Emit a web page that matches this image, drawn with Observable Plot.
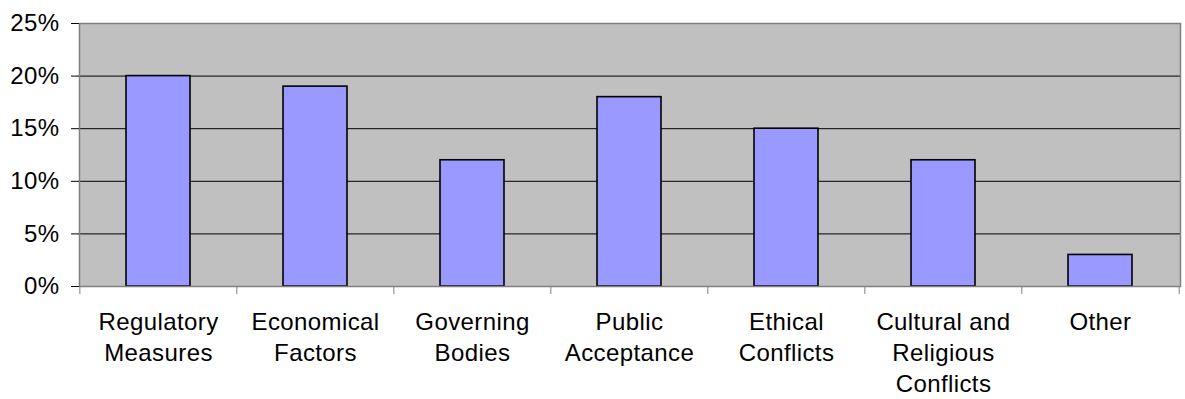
<!DOCTYPE html>
<html>
<head>
<meta charset="utf-8">
<script src="https://cdn.jsdelivr.net/npm/d3@7"></script>
<script src="https://cdn.jsdelivr.net/npm/@observablehq/plot@0.6"></script>
<style>
  html, body { margin: 0; padding: 0; background: #fff; }
  svg { display: block; }
</style>
</head>
<body>
<div id="chart"></div>
<script>
const categories = [
  "Regulatory\nMeasures",
  "Economical\nFactors",
  "Governing\nBodies",
  "Public\nAcceptance",
  "Ethical\nConflicts",
  "Cultural and\nReligious\nConflicts",
  "Other"
];
const values = [20, 19, 12, 18, 15, 12, 3];
const yTicks = [0, 5, 10, 15, 20, 25];
const gridTicks = [5, 10, 15, 20];

const data = categories.map((c, i) => ({category: c, value: values[i]}));

const W = 1185, H = 399;
const mL = 79, mR = 5, mT = 23, mB = 113;
const step = (W - mL - mR) / categories.length;
const font = "'Liberation Sans', Arial, sans-serif";

const plot = Plot.plot({
  width: W,
  height: H,
  marginLeft: mL,
  marginRight: mR,
  marginTop: mT,
  marginBottom: mB,
  style: {fontFamily: font, fontSize: "24px", color: "#000", background: "#fff", letterSpacing: "0.4px"},
  x: {domain: categories, paddingInner: 0.59, paddingOuter: 0.295, axis: null, label: null},
  y: {domain: [0, 25], axis: null, label: null},
  marks: [
    Plot.frame({fill: "#C0C0C0", stroke: "none"}),
    Plot.ruleY(gridTicks, {stroke: "#000", strokeWidth: 1}),
    Plot.barY(data, {x: "category", y: "value", fill: "#9999FF", stroke: "#000", strokeWidth: 1.6}),
    Plot.frame({stroke: "#808080", strokeWidth: 1.5}),
    Plot.axisY({ticks: yTicks, tickSize: 8, tickPadding: 12, tickFormat: d => d + "%", fontSize: 24, stroke: "#000", fill: "#000", label: null}),
    Plot.axisX({ticks: categories, tickSize: 8, dx: -step / 2, tickFormat: () => "", stroke: "#808080", label: null}),
    Plot.axisX({ticks: categories.slice(-1), tickSize: 8, dx: step / 2, tickFormat: () => "", stroke: "#808080", label: null}),
    Plot.axisX({ticks: categories, tickSize: 0, tickPadding: 21, fontSize: 24, lineHeight: 1.3, fill: "#000", label: null})
  ]
});
document.getElementById("chart").appendChild(plot);
</script>
</body>
</html>
